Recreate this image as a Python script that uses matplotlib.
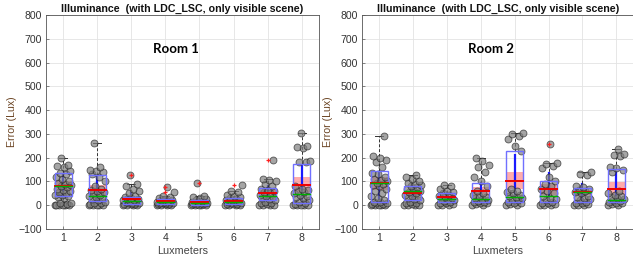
import numpy as np
import matplotlib.pyplot as plt

meters = [1, 2, 3, 4, 5, 6, 7, 8]

# Room 1 - raw errors per luxmeter
room1_pts = [
    [0, 0, 0, 0, 0, 2, 5, 8, 10, 30, 35, 38, 42, 45, 50, 55, 60, 65, 70, 75, 80, 85, 90, 95, 100, 110, 120, 130, 135, 145, 160, 165, 170, 200],
    [0, 0, 0, 0, 2, 5, 8, 10, 15, 20, 25, 30, 35, 40, 45, 50, 55, 60, 65, 70, 80, 100, 120, 130, 140, 145, 150, 160, 262],
    [0, 0, 0, 2, 3, 5, 5, 8, 10, 10, 12, 15, 18, 20, 22, 25, 28, 30, 35, 40, 50, 60, 70, 80, 90, 128],
    [0, 0, 0, 2, 3, 5, 5, 8, 8, 10, 10, 12, 15, 15, 18, 20, 22, 25, 30, 35, 40, 55, 78],
    [0, 0, 0, 2, 2, 3, 5, 5, 8, 8, 10, 10, 12, 15, 18, 20, 25, 30, 35, 40, 92],
    [0, 0, 0, 2, 3, 5, 5, 8, 10, 12, 15, 18, 20, 22, 25, 30, 35, 40, 45, 55, 60, 85],
    [0, 0, 0, 2, 5, 8, 10, 15, 20, 25, 30, 35, 40, 45, 50, 55, 60, 65, 70, 80, 90, 100, 105, 110, 192],
    [0, 0, 0, 0, 2, 5, 10, 15, 20, 30, 35, 40, 45, 50, 55, 60, 65, 70, 80, 180, 180, 185, 240, 245, 250, 305],
]
room1_mean = [82, 63, 25, 17, 15, 18, 50, 87]
room1_ci_lo = [60, 45, 15, 10, 9, 11, 38, 55]
room1_ci_hi = [103, 87, 35, 24, 22, 26, 63, 120]
room1_sd_lo = [35, 5, 0, 5, 3, 5, 20, 10]
room1_sd_hi = [125, 120, 50, 30, 28, 32, 80, 165]
room1_q1 = [38, 17, 5, 3, 2, 3, 20, 10]
room1_q3 = [136, 125, 35, 25, 22, 30, 72, 175]
room1_med = [80, 38, 18, 12, 10, 13, 38, 48]
room1_wlo = [0, 0, 0, 0, 0, 0, 0, 0]
room1_whi = [200, 262, 90, 40, 40, 60, 110, 305]
room1_out = {3: [128], 4: [78, 55], 5: [92], 6: [85], 7: [192]}

# Room 2
room2_pts = [
    [0, 0, 0, 0, 2, 5, 5, 8, 10, 12, 15, 20, 30, 40, 50, 60, 70, 80, 85, 90, 95, 100, 105, 110, 120, 130, 135, 160, 180, 190, 200, 205, 290],
    [0, 0, 0, 2, 5, 8, 10, 15, 20, 25, 30, 35, 40, 45, 50, 55, 60, 65, 70, 75, 80, 85, 90, 95, 100, 110, 120, 128],
    [0, 0, 2, 5, 8, 10, 15, 18, 20, 25, 28, 30, 35, 40, 45, 50, 55, 60, 70, 80, 85],
    [0, 2, 5, 8, 10, 12, 15, 18, 20, 25, 30, 35, 40, 45, 50, 60, 80, 100, 120, 140, 160, 170, 185, 197],
    [0, 2, 5, 8, 10, 15, 20, 25, 30, 35, 40, 45, 50, 55, 60, 70, 230, 250, 280, 290, 300, 305],
    [0, 0, 2, 5, 8, 10, 15, 20, 25, 30, 40, 50, 60, 70, 80, 90, 100, 120, 155, 165, 175, 178, 257],
    [0, 0, 2, 5, 8, 10, 15, 20, 25, 30, 35, 40, 50, 55, 60, 65, 70, 75, 80, 125, 130, 140],
    [0, 2, 5, 8, 10, 15, 18, 20, 25, 30, 35, 40, 45, 50, 60, 140, 150, 155, 160, 205, 210, 215, 237],
]
room2_mean = [92, 53, 33, 58, 100, 70, 55, 70]
room2_ci_lo = [65, 43, 27, 40, 70, 45, 45, 45]
room2_ci_hi = [118, 63, 40, 77, 140, 90, 63, 97]
room2_sd_lo = [15, 20, 15, 15, 0, 15, 20, 5]
room2_sd_hi = [140, 80, 50, 95, 210, 135, 90, 140]
room2_q1 = [12, 20, 15, 15, 15, 15, 15, 12]
room2_q3 = [143, 80, 52, 92, 228, 100, 72, 152]
room2_med = [92, 60, 28, 28, 35, 40, 55, 22]
room2_wlo = [0, 0, 0, 0, 0, 0, 0, 0]
room2_whi = [290, 128, 85, 197, 305, 178, 140, 237]
room2_out = {6: [257]}

TITLE = "Illuminance  (with LDC_LSC, only visible scene)"


def draw_room(ax, pts, mean, ci_lo, ci_hi, sd_lo, sd_hi, q1, q3, med, wlo, whi, outl, label):
    hw = 0.25
    for i, x in enumerate(meters):
        # 95% CI patch
        ax.fill_between([x - hw, x + hw], ci_lo[i], ci_hi[i], color="#ff8080", alpha=0.65, lw=0, zorder=2)
        # SD line
        ax.plot([x, x], [sd_lo[i], sd_hi[i]], color="#1a1aff", lw=1.6, zorder=2.5)
        # whiskers
        ax.plot([x, x], [q3[i], whi[i]], color="#333333", lw=0.7, ls=(0, (3, 2)), zorder=3)
        ax.plot([x, x], [wlo[i], q1[i]], color="#333333", lw=0.7, ls=(0, (3, 2)), zorder=3)
        ax.plot([x - 0.12, x + 0.12], [whi[i], whi[i]], color="#333333", lw=0.7, zorder=3)
        ax.plot([x - 0.12, x + 0.12], [wlo[i], wlo[i]], color="#333333", lw=0.7, zorder=3)
        # jittered points
        v = np.array(pts[i])
        off = ((np.arange(len(v)) * 0.6180339887) % 1 - 0.5) * 0.5
        ax.plot(x + off, v, "o", ms=5, mfc="#7f7f7f", mec="#222222", mew=0.6, alpha=0.7, zorder=4)
        # box
        ax.add_patch(plt.Rectangle((x - hw, q1[i]), 2 * hw, q3[i] - q1[i], fill=False,
                                   ec="#7070ff", lw=1.0, zorder=5))
        ax.plot([x - hw, x + hw], [mean[i], mean[i]], color="#ee0000", lw=1.4, zorder=6)
        ax.plot([x - hw, x + hw], [med[i], med[i]], color="#00b000", lw=1.0, zorder=6)
        for o in outl.get(x, []):
            ax.plot(x, o, "+", color="#ff2020", ms=3.5, mew=0.9, zorder=7)

    ax.set_xlim(0.5, 8.5)
    ax.set_ylim(-100, 800)
    ax.set_xticks(meters)
    ax.set_yticks(np.arange(-100, 801, 100))
    ax.grid(True, color="#e3e3e3", lw=0.6)
    ax.set_axisbelow(True)
    for s in ax.spines.values():
        s.set_color("#555555")
        s.set_linewidth(0.6)
    ax.tick_params(direction="in", length=2, width=0.5, labelsize=7.6, colors="#555555",
                   labelcolor="#333333", pad=3)
    ax.set_title(TITLE, fontsize=7.7, fontweight="bold", pad=2, color="#111111")
    ax.set_xlabel("Luxmeters", fontsize=7.8, color="#444444", labelpad=2)
    ax.set_ylabel("Error (Lux)", fontsize=7.6, color="#6b4423", labelpad=1)
    ax.text(4.3, 655, label, fontsize=9.5, fontweight="bold", family="Lato", ha="center", va="center")


plt.rcParams["font.family"] = ["Liberation Sans", "DejaVu Sans"]
fig = plt.figure(figsize=(6.33, 2.62), dpi=100)
ax1 = fig.add_axes([0.0727, 0.126, 0.431, 0.817])
ax2 = fig.add_axes([0.572, 0.126, 0.4285, 0.817])

draw_room(ax1, room1_pts, room1_mean, room1_ci_lo, room1_ci_hi, room1_sd_lo, room1_sd_hi,
          room1_q1, room1_q3, room1_med, room1_wlo, room1_whi, room1_out, "Room 1")
draw_room(ax2, room2_pts, room2_mean, room2_ci_lo, room2_ci_hi, room2_sd_lo, room2_sd_hi,
          room2_q1, room2_q3, room2_med, room2_wlo, room2_whi, room2_out, "Room 2")

fig.savefig("out.png", dpi=100)
